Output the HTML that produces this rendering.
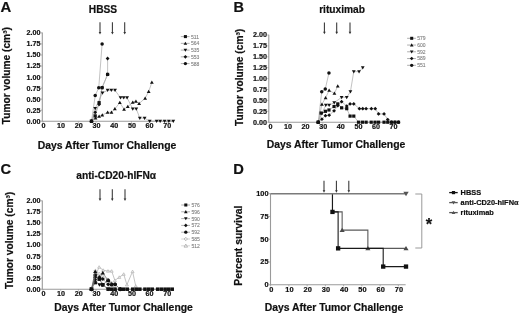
<!DOCTYPE html>
<html><head><meta charset="utf-8"><style>
html,body{margin:0;padding:0;background:#fff;width:520px;height:315px;overflow:hidden}
svg{display:block;filter:blur(0.3px)}
text{font-family:"Liberation Sans", sans-serif}
</style></head><body>
<svg width="520" height="315" viewBox="0 0 520 315">
<rect width="520" height="315" fill="#fff"/>
<text x="0.50" y="11.80" font-size="14.9" font-weight="bold" text-anchor="start" fill="#111" stroke="#111" stroke-width="0.2" >A</text><text x="103.00" y="12.70" font-size="10.2" font-weight="bold" text-anchor="middle" fill="#111" stroke="#111" stroke-width="0.2" >HBSS</text><line x1="100.0" y1="22.2" x2="100.0" y2="32.8" stroke="#333" stroke-width="1.05"/><path d="M98.7 32.099999999999994L101.3 32.099999999999994L100.0 34.599999999999994Z" fill="#333"/><line x1="112.4" y1="22.2" x2="112.4" y2="32.8" stroke="#333" stroke-width="1.05"/><path d="M111.10000000000001 32.099999999999994L113.7 32.099999999999994L112.4 34.599999999999994Z" fill="#333"/><line x1="124.7" y1="22.2" x2="124.7" y2="32.8" stroke="#333" stroke-width="1.05"/><path d="M123.4 32.099999999999994L126.0 32.099999999999994L124.7 34.599999999999994Z" fill="#333"/><line x1="42.3" y1="32.60000000000001" x2="42.3" y2="121.2" stroke="#9a9a9a" stroke-width="1.1"/><line x1="41.8" y1="121.2" x2="173.98" y2="121.2" stroke="#9a9a9a" stroke-width="1.1"/><line x1="40.8" y1="32.900000000000006" x2="42.3" y2="32.900000000000006" stroke="#9a9a9a" stroke-width="0.8"/><text x="40.60" y="35.35" font-size="7.2" font-weight="bold" text-anchor="end" fill="#111" stroke="#111" stroke-width="0.2" >2.00</text><line x1="40.8" y1="43.9375" x2="42.3" y2="43.9375" stroke="#9a9a9a" stroke-width="0.8"/><text x="40.60" y="46.39" font-size="7.2" font-weight="bold" text-anchor="end" fill="#111" stroke="#111" stroke-width="0.2" >1.75</text><line x1="40.8" y1="54.97500000000001" x2="42.3" y2="54.97500000000001" stroke="#9a9a9a" stroke-width="0.8"/><text x="40.60" y="57.43" font-size="7.2" font-weight="bold" text-anchor="end" fill="#111" stroke="#111" stroke-width="0.2" >1.50</text><line x1="40.8" y1="66.0125" x2="42.3" y2="66.0125" stroke="#9a9a9a" stroke-width="0.8"/><text x="40.60" y="68.46" font-size="7.2" font-weight="bold" text-anchor="end" fill="#111" stroke="#111" stroke-width="0.2" >1.25</text><line x1="40.8" y1="77.05000000000001" x2="42.3" y2="77.05000000000001" stroke="#9a9a9a" stroke-width="0.8"/><text x="40.60" y="79.50" font-size="7.2" font-weight="bold" text-anchor="end" fill="#111" stroke="#111" stroke-width="0.2" >1.00</text><line x1="40.8" y1="88.0875" x2="42.3" y2="88.0875" stroke="#9a9a9a" stroke-width="0.8"/><text x="40.60" y="90.54" font-size="7.2" font-weight="bold" text-anchor="end" fill="#111" stroke="#111" stroke-width="0.2" >0.75</text><line x1="40.8" y1="99.125" x2="42.3" y2="99.125" stroke="#9a9a9a" stroke-width="0.8"/><text x="40.60" y="101.58" font-size="7.2" font-weight="bold" text-anchor="end" fill="#111" stroke="#111" stroke-width="0.2" >0.50</text><line x1="40.8" y1="110.16250000000001" x2="42.3" y2="110.16250000000001" stroke="#9a9a9a" stroke-width="0.8"/><text x="40.60" y="112.61" font-size="7.2" font-weight="bold" text-anchor="end" fill="#111" stroke="#111" stroke-width="0.2" >0.25</text><line x1="40.8" y1="121.2" x2="42.3" y2="121.2" stroke="#9a9a9a" stroke-width="0.8"/><text x="40.60" y="123.65" font-size="7.2" font-weight="bold" text-anchor="end" fill="#111" stroke="#111" stroke-width="0.2" >0.00</text><line x1="43.0" y1="121.2" x2="43.0" y2="122.7" stroke="#9a9a9a" stroke-width="0.8"/><text x="43.40" y="127.80" font-size="7.2" font-weight="bold" text-anchor="middle" fill="#111" stroke="#111" stroke-width="0.2" >0</text><line x1="60.7" y1="121.2" x2="60.7" y2="122.7" stroke="#9a9a9a" stroke-width="0.8"/><text x="61.10" y="127.80" font-size="7.2" font-weight="bold" text-anchor="middle" fill="#111" stroke="#111" stroke-width="0.2" >10</text><line x1="78.4" y1="121.2" x2="78.4" y2="122.7" stroke="#9a9a9a" stroke-width="0.8"/><text x="78.80" y="127.80" font-size="7.2" font-weight="bold" text-anchor="middle" fill="#111" stroke="#111" stroke-width="0.2" >20</text><line x1="96.1" y1="121.2" x2="96.1" y2="122.7" stroke="#9a9a9a" stroke-width="0.8"/><text x="96.50" y="127.80" font-size="7.2" font-weight="bold" text-anchor="middle" fill="#111" stroke="#111" stroke-width="0.2" >30</text><line x1="113.8" y1="121.2" x2="113.8" y2="122.7" stroke="#9a9a9a" stroke-width="0.8"/><text x="114.20" y="127.80" font-size="7.2" font-weight="bold" text-anchor="middle" fill="#111" stroke="#111" stroke-width="0.2" >40</text><line x1="131.5" y1="121.2" x2="131.5" y2="122.7" stroke="#9a9a9a" stroke-width="0.8"/><text x="131.90" y="127.80" font-size="7.2" font-weight="bold" text-anchor="middle" fill="#111" stroke="#111" stroke-width="0.2" >50</text><line x1="149.2" y1="121.2" x2="149.2" y2="122.7" stroke="#9a9a9a" stroke-width="0.8"/><text x="149.60" y="127.80" font-size="7.2" font-weight="bold" text-anchor="middle" fill="#111" stroke="#111" stroke-width="0.2" >60</text><line x1="166.9" y1="121.2" x2="166.9" y2="122.7" stroke="#9a9a9a" stroke-width="0.8"/><text x="167.30" y="127.80" font-size="7.2" font-weight="bold" text-anchor="middle" fill="#111" stroke="#111" stroke-width="0.2" >70</text><text x="107.00" y="148.60" font-size="10.4" font-weight="bold" text-anchor="middle" fill="#111" stroke="#111" stroke-width="0.2" >Days After Tumor Challenge</text><text transform="translate(9.9 124.2) rotate(-90)" font-size="10.2" font-weight="bold" fill="#111" stroke="#111" stroke-width="0.2">Tumor volume (cm&#179;)</text><path d="M91.50 121.20L95.57 118.11L99.11 116.34L102.30 115.02L107.61 112.37L111.50 112.37L114.86 108.84L119.82 102.66L124.07 109.28L127.78 106.63L132.74 102.22L135.93 101.33L139.11 103.54L145.13 98.24L148.67 91.62L151.86 82.35" fill="none" stroke="#a8a8a8" stroke-width="0.7"/><path d="M91.50 121.20L95.22 108.40L102.47 92.94L107.61 90.30L111.32 90.30L115.04 90.30L120.53 97.80L123.71 97.80L127.08 97.80L132.74 108.84L136.28 108.84L139.82 118.11L144.60 118.11L149.73 121.20L156.63 121.20L160.17 121.20L164.60 121.20L168.85 121.20L173.27 121.20" fill="none" stroke="#a8a8a8" stroke-width="0.7"/><path d="M91.50 121.20L95.22 112.37L99.11 104.42L102.12 87.65L107.61 74.40L107.61 58.51" fill="none" stroke="#a8a8a8" stroke-width="0.7"/><path d="M91.50 121.20L95.22 115.90L99.11 102.66L102.12 87.65L107.61 74.40" fill="none" stroke="#a8a8a8" stroke-width="0.7"/><path d="M91.50 121.20L95.22 95.59L98.75 87.65L102.12 43.94" fill="none" stroke="#a8a8a8" stroke-width="0.7"/><path d="M91.50 119.40L93.40 122.64L89.60 122.64Z" fill="#111"/><path d="M95.57 116.31L97.47 119.55L93.67 119.55Z" fill="#111"/><path d="M99.11 114.54L101.01 117.78L97.21 117.78Z" fill="#111"/><path d="M102.30 113.22L104.20 116.46L100.39 116.46Z" fill="#111"/><path d="M107.61 110.57L109.51 113.81L105.70 113.81Z" fill="#111"/><path d="M111.50 110.57L113.40 113.81L109.60 113.81Z" fill="#111"/><path d="M114.86 107.04L116.76 110.28L112.96 110.28Z" fill="#111"/><path d="M119.82 100.86L121.72 104.10L117.92 104.10Z" fill="#111"/><path d="M124.07 107.48L125.97 110.72L122.17 110.72Z" fill="#111"/><path d="M127.78 104.83L129.68 108.07L125.88 108.07Z" fill="#111"/><path d="M132.74 100.42L134.64 103.66L130.84 103.66Z" fill="#111"/><path d="M135.93 99.53L137.83 102.77L134.03 102.77Z" fill="#111"/><path d="M139.11 101.74L141.01 104.98L137.21 104.98Z" fill="#111"/><path d="M145.13 96.44L147.03 99.68L143.23 99.68Z" fill="#111"/><path d="M148.67 89.82L150.57 93.06L146.77 93.06Z" fill="#111"/><path d="M151.86 80.55L153.76 83.79L149.96 83.79Z" fill="#111"/><path d="M91.50 123.00L93.40 119.76L89.60 119.76Z" fill="#111"/><path d="M95.22 110.20L97.12 106.96L93.31 106.96Z" fill="#111"/><path d="M102.47 94.74L104.37 91.50L100.57 91.50Z" fill="#111"/><path d="M107.61 92.09L109.51 88.86L105.70 88.86Z" fill="#111"/><path d="M111.32 92.09L113.22 88.86L109.42 88.86Z" fill="#111"/><path d="M115.04 92.09L116.94 88.86L113.14 88.86Z" fill="#111"/><path d="M120.53 99.60L122.43 96.36L118.63 96.36Z" fill="#111"/><path d="M123.71 99.60L125.61 96.36L121.81 96.36Z" fill="#111"/><path d="M127.08 99.60L128.97 96.36L125.17 96.36Z" fill="#111"/><path d="M132.74 110.64L134.64 107.40L130.84 107.40Z" fill="#111"/><path d="M136.28 110.64L138.18 107.40L134.38 107.40Z" fill="#111"/><path d="M139.82 119.91L141.72 116.67L137.92 116.67Z" fill="#111"/><path d="M144.60 119.91L146.50 116.67L142.70 116.67Z" fill="#111"/><path d="M149.73 123.00L151.63 119.76L147.83 119.76Z" fill="#111"/><path d="M156.63 123.00L158.53 119.76L154.73 119.76Z" fill="#111"/><path d="M160.17 123.00L162.07 119.76L158.27 119.76Z" fill="#111"/><path d="M164.60 123.00L166.50 119.76L162.70 119.76Z" fill="#111"/><path d="M168.85 123.00L170.75 119.76L166.95 119.76Z" fill="#111"/><path d="M173.27 123.00L175.17 119.76L171.37 119.76Z" fill="#111"/><path d="M91.50 119.30L93.40 121.20L91.50 123.10L89.60 121.20Z" fill="#111"/><path d="M95.22 110.47L97.12 112.37L95.22 114.27L93.31 112.37Z" fill="#111"/><path d="M99.11 102.52L101.01 104.42L99.11 106.32L97.21 104.42Z" fill="#111"/><path d="M102.12 85.75L104.02 87.65L102.12 89.55L100.22 87.65Z" fill="#111"/><path d="M107.61 72.50L109.51 74.40L107.61 76.30L105.70 74.40Z" fill="#111"/><path d="M107.61 56.61L109.51 58.51L107.61 60.41L105.70 58.51Z" fill="#111"/><rect x="89.90" y="119.60" width="3.20" height="3.20" fill="#111"/><rect x="93.62" y="114.30" width="3.20" height="3.20" fill="#111"/><rect x="97.51" y="101.06" width="3.20" height="3.20" fill="#111"/><rect x="100.52" y="86.05" width="3.20" height="3.20" fill="#111"/><rect x="106.01" y="72.80" width="3.20" height="3.20" fill="#111"/><circle cx="91.50" cy="121.20" r="1.75" fill="#111"/><circle cx="95.22" cy="95.59" r="1.75" fill="#111"/><circle cx="98.75" cy="87.65" r="1.75" fill="#111"/><circle cx="102.12" cy="43.94" r="1.75" fill="#111"/><line x1="180.8" y1="36.6" x2="189.6" y2="36.6" stroke="#777" stroke-width="0.6"/><rect x="183.88" y="35.08" width="3.04" height="3.04" fill="#111"/><text x="191.00" y="38.50" font-size="5.0" font-weight="normal" text-anchor="start" fill="#808080" stroke="#808080" stroke-width="0.1" >511</text><line x1="180.8" y1="43.35" x2="189.6" y2="43.35" stroke="#777" stroke-width="0.6"/><path d="M185.40 41.64L187.21 44.72L183.59 44.72Z" fill="#111"/><text x="191.00" y="45.25" font-size="5.0" font-weight="normal" text-anchor="start" fill="#808080" stroke="#808080" stroke-width="0.1" >564</text><line x1="180.8" y1="50.1" x2="189.6" y2="50.1" stroke="#777" stroke-width="0.6"/><path d="M185.40 51.81L187.21 48.73L183.59 48.73Z" fill="#111"/><text x="191.00" y="52.00" font-size="5.0" font-weight="normal" text-anchor="start" fill="#808080" stroke="#808080" stroke-width="0.1" >535</text><line x1="180.8" y1="56.85" x2="189.6" y2="56.85" stroke="#777" stroke-width="0.6"/><path d="M185.40 55.05L187.21 56.85L185.40 58.66L183.59 56.85Z" fill="#111"/><text x="191.00" y="58.75" font-size="5.0" font-weight="normal" text-anchor="start" fill="#808080" stroke="#808080" stroke-width="0.1" >553</text><line x1="180.8" y1="63.6" x2="189.6" y2="63.6" stroke="#777" stroke-width="0.6"/><circle cx="185.40" cy="63.60" r="1.66" fill="#111"/><text x="191.00" y="65.50" font-size="5.0" font-weight="normal" text-anchor="start" fill="#808080" stroke="#808080" stroke-width="0.1" >588</text><text x="233.40" y="12.00" font-size="14.5" font-weight="bold" text-anchor="start" fill="#111" stroke="#111" stroke-width="0.2" >B</text><text x="342.10" y="12.70" font-size="10.2" font-weight="bold" text-anchor="middle" fill="#111" stroke="#111" stroke-width="0.2" >rituximab</text><line x1="324.4" y1="22.6" x2="324.4" y2="32.5" stroke="#333" stroke-width="1.05"/><path d="M323.09999999999997 31.8L325.7 31.8L324.4 34.3Z" fill="#333"/><line x1="336.7" y1="22.6" x2="336.7" y2="32.5" stroke="#333" stroke-width="1.05"/><path d="M335.4 31.8L338.0 31.8L336.7 34.3Z" fill="#333"/><line x1="350.0" y1="22.6" x2="350.0" y2="32.5" stroke="#333" stroke-width="1.05"/><path d="M348.7 31.8L351.3 31.8L350.0 34.3Z" fill="#333"/><line x1="268.8" y1="34.7" x2="268.8" y2="122.2" stroke="#9a9a9a" stroke-width="1.1"/><line x1="268.3" y1="122.2" x2="400.24" y2="122.2" stroke="#9a9a9a" stroke-width="1.1"/><line x1="267.3" y1="35.0" x2="268.8" y2="35.0" stroke="#9a9a9a" stroke-width="0.8"/><text x="267.10" y="37.45" font-size="7.2" font-weight="bold" text-anchor="end" fill="#111" stroke="#111" stroke-width="0.2" >2.00</text><line x1="267.3" y1="45.900000000000006" x2="268.8" y2="45.900000000000006" stroke="#9a9a9a" stroke-width="0.8"/><text x="267.10" y="48.35" font-size="7.2" font-weight="bold" text-anchor="end" fill="#111" stroke="#111" stroke-width="0.2" >1.75</text><line x1="267.3" y1="56.8" x2="268.8" y2="56.8" stroke="#9a9a9a" stroke-width="0.8"/><text x="267.10" y="59.25" font-size="7.2" font-weight="bold" text-anchor="end" fill="#111" stroke="#111" stroke-width="0.2" >1.50</text><line x1="267.3" y1="67.7" x2="268.8" y2="67.7" stroke="#9a9a9a" stroke-width="0.8"/><text x="267.10" y="70.15" font-size="7.2" font-weight="bold" text-anchor="end" fill="#111" stroke="#111" stroke-width="0.2" >1.25</text><line x1="267.3" y1="78.6" x2="268.8" y2="78.6" stroke="#9a9a9a" stroke-width="0.8"/><text x="267.10" y="81.05" font-size="7.2" font-weight="bold" text-anchor="end" fill="#111" stroke="#111" stroke-width="0.2" >1.00</text><line x1="267.3" y1="89.5" x2="268.8" y2="89.5" stroke="#9a9a9a" stroke-width="0.8"/><text x="267.10" y="91.95" font-size="7.2" font-weight="bold" text-anchor="end" fill="#111" stroke="#111" stroke-width="0.2" >0.75</text><line x1="267.3" y1="100.4" x2="268.8" y2="100.4" stroke="#9a9a9a" stroke-width="0.8"/><text x="267.10" y="102.85" font-size="7.2" font-weight="bold" text-anchor="end" fill="#111" stroke="#111" stroke-width="0.2" >0.50</text><line x1="267.3" y1="111.3" x2="268.8" y2="111.3" stroke="#9a9a9a" stroke-width="0.8"/><text x="267.10" y="113.75" font-size="7.2" font-weight="bold" text-anchor="end" fill="#111" stroke="#111" stroke-width="0.2" >0.25</text><line x1="267.3" y1="122.2" x2="268.8" y2="122.2" stroke="#9a9a9a" stroke-width="0.8"/><text x="267.10" y="124.65" font-size="7.2" font-weight="bold" text-anchor="end" fill="#111" stroke="#111" stroke-width="0.2" >0.00</text><line x1="270.0" y1="122.2" x2="270.0" y2="123.7" stroke="#9a9a9a" stroke-width="0.8"/><text x="270.40" y="128.80" font-size="7.2" font-weight="bold" text-anchor="middle" fill="#111" stroke="#111" stroke-width="0.2" >0</text><line x1="287.6" y1="122.2" x2="287.6" y2="123.7" stroke="#9a9a9a" stroke-width="0.8"/><text x="288.00" y="128.80" font-size="7.2" font-weight="bold" text-anchor="middle" fill="#111" stroke="#111" stroke-width="0.2" >10</text><line x1="305.2" y1="122.2" x2="305.2" y2="123.7" stroke="#9a9a9a" stroke-width="0.8"/><text x="305.60" y="128.80" font-size="7.2" font-weight="bold" text-anchor="middle" fill="#111" stroke="#111" stroke-width="0.2" >20</text><line x1="322.8" y1="122.2" x2="322.8" y2="123.7" stroke="#9a9a9a" stroke-width="0.8"/><text x="323.20" y="128.80" font-size="7.2" font-weight="bold" text-anchor="middle" fill="#111" stroke="#111" stroke-width="0.2" >30</text><line x1="340.4" y1="122.2" x2="340.4" y2="123.7" stroke="#9a9a9a" stroke-width="0.8"/><text x="340.80" y="128.80" font-size="7.2" font-weight="bold" text-anchor="middle" fill="#111" stroke="#111" stroke-width="0.2" >40</text><line x1="358.0" y1="122.2" x2="358.0" y2="123.7" stroke="#9a9a9a" stroke-width="0.8"/><text x="358.40" y="128.80" font-size="7.2" font-weight="bold" text-anchor="middle" fill="#111" stroke="#111" stroke-width="0.2" >50</text><line x1="375.6" y1="122.2" x2="375.6" y2="123.7" stroke="#9a9a9a" stroke-width="0.8"/><text x="376.00" y="128.80" font-size="7.2" font-weight="bold" text-anchor="middle" fill="#111" stroke="#111" stroke-width="0.2" >60</text><line x1="393.2" y1="122.2" x2="393.2" y2="123.7" stroke="#9a9a9a" stroke-width="0.8"/><text x="393.60" y="128.80" font-size="7.2" font-weight="bold" text-anchor="middle" fill="#111" stroke="#111" stroke-width="0.2" >70</text><text x="336.00" y="148.00" font-size="10.4" font-weight="bold" text-anchor="middle" fill="#111" stroke="#111" stroke-width="0.2" >Days After Tumor Challenge</text><text transform="translate(242.8 125.9) rotate(-90)" font-size="10.2" font-weight="bold" fill="#111" stroke="#111" stroke-width="0.2">Tumor volume (cm&#179;)</text><path d="M318.22 122.20L321.04 113.04L325.44 111.30L328.96 109.99L334.06 106.50L337.76 103.89L341.63 107.81L346.74 108.68L350.08 116.10L353.78 116.10L358.53 122.20L362.40 122.20L366.10 122.20L371.20 122.20L375.07 122.20L378.59 122.20L384.05 122.20L387.74 122.20L391.44 122.20L394.96 122.20L398.48 122.20" fill="none" stroke="#a8a8a8" stroke-width="0.7"/><path d="M318.22 122.20L321.92 119.15L325.44 115.66L329.14 115.22L334.06 110.86L337.76 105.63L341.63 101.71L346.74 106.07L350.08 103.89L353.78 103.89L359.41 108.68L362.75 108.68L366.10 108.68L371.38 108.68L375.25 108.68L378.59 113.92L384.05 113.92L387.74 119.58L391.44 122.20L394.96 122.20L398.48 122.20" fill="none" stroke="#a8a8a8" stroke-width="0.7"/><path d="M318.22 122.20L321.92 113.48L325.79 105.20L329.14 105.20L334.24 102.58L341.63 97.35L346.74 97.35L350.43 91.68L353.78 71.62L359.06 71.62L362.75 67.70" fill="none" stroke="#a8a8a8" stroke-width="0.7"/><path d="M318.22 122.20L321.92 104.32L325.62 97.78L329.14 90.37L334.42 93.42L337.76 86.01" fill="none" stroke="#a8a8a8" stroke-width="0.7"/><path d="M318.22 122.20L321.74 91.68L325.26 89.06L328.96 72.93" fill="none" stroke="#a8a8a8" stroke-width="0.7"/><rect x="316.62" y="120.60" width="3.20" height="3.20" fill="#111"/><rect x="319.44" y="111.44" width="3.20" height="3.20" fill="#111"/><rect x="323.84" y="109.70" width="3.20" height="3.20" fill="#111"/><rect x="327.36" y="108.39" width="3.20" height="3.20" fill="#111"/><rect x="332.46" y="104.90" width="3.20" height="3.20" fill="#111"/><rect x="336.16" y="102.29" width="3.20" height="3.20" fill="#111"/><rect x="340.03" y="106.21" width="3.20" height="3.20" fill="#111"/><rect x="345.14" y="107.08" width="3.20" height="3.20" fill="#111"/><rect x="348.48" y="114.50" width="3.20" height="3.20" fill="#111"/><rect x="352.18" y="114.50" width="3.20" height="3.20" fill="#111"/><rect x="356.93" y="120.60" width="3.20" height="3.20" fill="#111"/><rect x="360.80" y="120.60" width="3.20" height="3.20" fill="#111"/><rect x="364.50" y="120.60" width="3.20" height="3.20" fill="#111"/><rect x="369.60" y="120.60" width="3.20" height="3.20" fill="#111"/><rect x="373.47" y="120.60" width="3.20" height="3.20" fill="#111"/><rect x="376.99" y="120.60" width="3.20" height="3.20" fill="#111"/><rect x="382.45" y="120.60" width="3.20" height="3.20" fill="#111"/><rect x="386.14" y="120.60" width="3.20" height="3.20" fill="#111"/><rect x="389.84" y="120.60" width="3.20" height="3.20" fill="#111"/><rect x="393.36" y="120.60" width="3.20" height="3.20" fill="#111"/><rect x="396.88" y="120.60" width="3.20" height="3.20" fill="#111"/><path d="M318.22 120.30L320.12 122.20L318.22 124.10L316.32 122.20Z" fill="#111"/><path d="M321.92 117.25L323.82 119.15L321.92 121.05L320.02 119.15Z" fill="#111"/><path d="M325.44 113.76L327.34 115.66L325.44 117.56L323.54 115.66Z" fill="#111"/><path d="M329.14 113.32L331.04 115.22L329.14 117.12L327.24 115.22Z" fill="#111"/><path d="M334.06 108.96L335.96 110.86L334.06 112.76L332.16 110.86Z" fill="#111"/><path d="M337.76 103.73L339.66 105.63L337.76 107.53L335.86 105.63Z" fill="#111"/><path d="M341.63 99.81L343.53 101.71L341.63 103.61L339.73 101.71Z" fill="#111"/><path d="M346.74 104.17L348.64 106.07L346.74 107.97L344.84 106.07Z" fill="#111"/><path d="M350.08 101.99L351.98 103.89L350.08 105.79L348.18 103.89Z" fill="#111"/><path d="M353.78 101.99L355.68 103.89L353.78 105.79L351.88 103.89Z" fill="#111"/><path d="M359.41 106.78L361.31 108.68L359.41 110.58L357.51 108.68Z" fill="#111"/><path d="M362.75 106.78L364.65 108.68L362.75 110.58L360.85 108.68Z" fill="#111"/><path d="M366.10 106.78L368.00 108.68L366.10 110.58L364.20 108.68Z" fill="#111"/><path d="M371.38 106.78L373.28 108.68L371.38 110.58L369.48 108.68Z" fill="#111"/><path d="M375.25 106.78L377.15 108.68L375.25 110.58L373.35 108.68Z" fill="#111"/><path d="M378.59 112.02L380.49 113.92L378.59 115.82L376.69 113.92Z" fill="#111"/><path d="M384.05 112.02L385.95 113.92L384.05 115.82L382.15 113.92Z" fill="#111"/><path d="M387.74 117.68L389.64 119.58L387.74 121.48L385.84 119.58Z" fill="#111"/><path d="M391.44 120.30L393.34 122.20L391.44 124.10L389.54 122.20Z" fill="#111"/><path d="M394.96 120.30L396.86 122.20L394.96 124.10L393.06 122.20Z" fill="#111"/><path d="M398.48 120.30L400.38 122.20L398.48 124.10L396.58 122.20Z" fill="#111"/><path d="M318.22 124.00L320.12 120.76L316.32 120.76Z" fill="#111"/><path d="M321.92 115.28L323.82 112.04L320.02 112.04Z" fill="#111"/><path d="M325.79 107.00L327.69 103.76L323.89 103.76Z" fill="#111"/><path d="M329.14 107.00L331.04 103.76L327.24 103.76Z" fill="#111"/><path d="M334.24 104.38L336.14 101.14L332.34 101.14Z" fill="#111"/><path d="M341.63 99.15L343.53 95.91L339.73 95.91Z" fill="#111"/><path d="M346.74 99.15L348.64 95.91L344.84 95.91Z" fill="#111"/><path d="M350.43 93.48L352.33 90.24L348.53 90.24Z" fill="#111"/><path d="M353.78 73.42L355.68 70.18L351.88 70.18Z" fill="#111"/><path d="M359.06 73.42L360.96 70.18L357.16 70.18Z" fill="#111"/><path d="M362.75 69.50L364.65 66.26L360.85 66.26Z" fill="#111"/><path d="M318.22 120.40L320.12 123.64L316.32 123.64Z" fill="#111"/><path d="M321.92 102.52L323.82 105.76L320.02 105.76Z" fill="#111"/><path d="M325.62 95.98L327.52 99.22L323.72 99.22Z" fill="#111"/><path d="M329.14 88.57L331.04 91.81L327.24 91.81Z" fill="#111"/><path d="M334.42 91.62L336.32 94.86L332.52 94.86Z" fill="#111"/><path d="M337.76 84.21L339.66 87.45L335.86 87.45Z" fill="#111"/><circle cx="318.22" cy="122.20" r="1.75" fill="#111"/><circle cx="321.74" cy="91.68" r="1.75" fill="#111"/><circle cx="325.26" cy="89.06" r="1.75" fill="#111"/><circle cx="328.96" cy="72.93" r="1.75" fill="#111"/><line x1="407.09999999999997" y1="38.3" x2="415.9" y2="38.3" stroke="#777" stroke-width="0.6"/><rect x="410.18" y="36.78" width="3.04" height="3.04" fill="#111"/><text x="417.30" y="40.20" font-size="5.0" font-weight="normal" text-anchor="start" fill="#808080" stroke="#808080" stroke-width="0.1" >579</text><line x1="407.09999999999997" y1="45.05" x2="415.9" y2="45.05" stroke="#777" stroke-width="0.6"/><path d="M411.70 43.34L413.50 46.42L409.89 46.42Z" fill="#111"/><text x="417.30" y="46.95" font-size="5.0" font-weight="normal" text-anchor="start" fill="#808080" stroke="#808080" stroke-width="0.1" >600</text><line x1="407.09999999999997" y1="51.8" x2="415.9" y2="51.8" stroke="#777" stroke-width="0.6"/><path d="M411.70 53.51L413.50 50.43L409.89 50.43Z" fill="#111"/><text x="417.30" y="53.70" font-size="5.0" font-weight="normal" text-anchor="start" fill="#808080" stroke="#808080" stroke-width="0.1" >592</text><line x1="407.09999999999997" y1="58.55" x2="415.9" y2="58.55" stroke="#777" stroke-width="0.6"/><path d="M411.70 56.74L413.50 58.55L411.70 60.35L409.89 58.55Z" fill="#111"/><text x="417.30" y="60.45" font-size="5.0" font-weight="normal" text-anchor="start" fill="#808080" stroke="#808080" stroke-width="0.1" >589</text><line x1="407.09999999999997" y1="65.3" x2="415.9" y2="65.3" stroke="#777" stroke-width="0.6"/><circle cx="411.70" cy="65.30" r="1.66" fill="#111"/><text x="417.30" y="67.20" font-size="5.0" font-weight="normal" text-anchor="start" fill="#808080" stroke="#808080" stroke-width="0.1" >551</text><text x="0.60" y="173.90" font-size="14.7" font-weight="bold" text-anchor="start" fill="#111" stroke="#111" stroke-width="0.2" >C</text><text x="116.20" y="179.00" font-size="10.2" font-weight="bold" text-anchor="middle" fill="#111" stroke="#111" stroke-width="0.2" >anti-CD20-hIFN&#945;</text><line x1="100.0" y1="189.2" x2="100.0" y2="199.3" stroke="#333" stroke-width="1.05"/><path d="M98.7 198.60000000000002L101.3 198.60000000000002L100.0 201.10000000000002Z" fill="#333"/><line x1="112.3" y1="189.2" x2="112.3" y2="199.3" stroke="#333" stroke-width="1.05"/><path d="M111.0 198.60000000000002L113.6 198.60000000000002L112.3 201.10000000000002Z" fill="#333"/><line x1="125.0" y1="189.2" x2="125.0" y2="199.3" stroke="#333" stroke-width="1.05"/><path d="M123.7 198.60000000000002L126.3 198.60000000000002L125.0 201.10000000000002Z" fill="#333"/><line x1="42.3" y1="200.49999999999997" x2="42.3" y2="289.2" stroke="#9a9a9a" stroke-width="1.1"/><line x1="41.8" y1="289.2" x2="173.98" y2="289.2" stroke="#9a9a9a" stroke-width="1.1"/><line x1="40.8" y1="200.79999999999998" x2="42.3" y2="200.79999999999998" stroke="#9a9a9a" stroke-width="0.8"/><text x="40.60" y="203.25" font-size="7.2" font-weight="bold" text-anchor="end" fill="#111" stroke="#111" stroke-width="0.2" >2.00</text><line x1="40.8" y1="211.84999999999997" x2="42.3" y2="211.84999999999997" stroke="#9a9a9a" stroke-width="0.8"/><text x="40.60" y="214.30" font-size="7.2" font-weight="bold" text-anchor="end" fill="#111" stroke="#111" stroke-width="0.2" >1.75</text><line x1="40.8" y1="222.89999999999998" x2="42.3" y2="222.89999999999998" stroke="#9a9a9a" stroke-width="0.8"/><text x="40.60" y="225.35" font-size="7.2" font-weight="bold" text-anchor="end" fill="#111" stroke="#111" stroke-width="0.2" >1.50</text><line x1="40.8" y1="233.95" x2="42.3" y2="233.95" stroke="#9a9a9a" stroke-width="0.8"/><text x="40.60" y="236.40" font-size="7.2" font-weight="bold" text-anchor="end" fill="#111" stroke="#111" stroke-width="0.2" >1.25</text><line x1="40.8" y1="245.0" x2="42.3" y2="245.0" stroke="#9a9a9a" stroke-width="0.8"/><text x="40.60" y="247.45" font-size="7.2" font-weight="bold" text-anchor="end" fill="#111" stroke="#111" stroke-width="0.2" >1.00</text><line x1="40.8" y1="256.04999999999995" x2="42.3" y2="256.04999999999995" stroke="#9a9a9a" stroke-width="0.8"/><text x="40.60" y="258.50" font-size="7.2" font-weight="bold" text-anchor="end" fill="#111" stroke="#111" stroke-width="0.2" >0.75</text><line x1="40.8" y1="267.09999999999997" x2="42.3" y2="267.09999999999997" stroke="#9a9a9a" stroke-width="0.8"/><text x="40.60" y="269.55" font-size="7.2" font-weight="bold" text-anchor="end" fill="#111" stroke="#111" stroke-width="0.2" >0.50</text><line x1="40.8" y1="278.15" x2="42.3" y2="278.15" stroke="#9a9a9a" stroke-width="0.8"/><text x="40.60" y="280.60" font-size="7.2" font-weight="bold" text-anchor="end" fill="#111" stroke="#111" stroke-width="0.2" >0.25</text><line x1="40.8" y1="289.2" x2="42.3" y2="289.2" stroke="#9a9a9a" stroke-width="0.8"/><text x="40.60" y="291.65" font-size="7.2" font-weight="bold" text-anchor="end" fill="#111" stroke="#111" stroke-width="0.2" >0.00</text><line x1="43.0" y1="289.2" x2="43.0" y2="290.7" stroke="#9a9a9a" stroke-width="0.8"/><text x="43.40" y="295.80" font-size="7.2" font-weight="bold" text-anchor="middle" fill="#111" stroke="#111" stroke-width="0.2" >0</text><line x1="60.7" y1="289.2" x2="60.7" y2="290.7" stroke="#9a9a9a" stroke-width="0.8"/><text x="61.10" y="295.80" font-size="7.2" font-weight="bold" text-anchor="middle" fill="#111" stroke="#111" stroke-width="0.2" >10</text><line x1="78.4" y1="289.2" x2="78.4" y2="290.7" stroke="#9a9a9a" stroke-width="0.8"/><text x="78.80" y="295.80" font-size="7.2" font-weight="bold" text-anchor="middle" fill="#111" stroke="#111" stroke-width="0.2" >20</text><line x1="96.1" y1="289.2" x2="96.1" y2="290.7" stroke="#9a9a9a" stroke-width="0.8"/><text x="96.50" y="295.80" font-size="7.2" font-weight="bold" text-anchor="middle" fill="#111" stroke="#111" stroke-width="0.2" >30</text><line x1="113.8" y1="289.2" x2="113.8" y2="290.7" stroke="#9a9a9a" stroke-width="0.8"/><text x="114.20" y="295.80" font-size="7.2" font-weight="bold" text-anchor="middle" fill="#111" stroke="#111" stroke-width="0.2" >40</text><line x1="131.5" y1="289.2" x2="131.5" y2="290.7" stroke="#9a9a9a" stroke-width="0.8"/><text x="131.90" y="295.80" font-size="7.2" font-weight="bold" text-anchor="middle" fill="#111" stroke="#111" stroke-width="0.2" >50</text><line x1="149.2" y1="289.2" x2="149.2" y2="290.7" stroke="#9a9a9a" stroke-width="0.8"/><text x="149.60" y="295.80" font-size="7.2" font-weight="bold" text-anchor="middle" fill="#111" stroke="#111" stroke-width="0.2" >60</text><line x1="166.9" y1="289.2" x2="166.9" y2="290.7" stroke="#9a9a9a" stroke-width="0.8"/><text x="167.30" y="295.80" font-size="7.2" font-weight="bold" text-anchor="middle" fill="#111" stroke="#111" stroke-width="0.2" >70</text><text x="123.60" y="311.10" font-size="10.4" font-weight="bold" text-anchor="middle" fill="#111" stroke="#111" stroke-width="0.2" >Days After Tumor Challenge</text><text transform="translate(12.8 288.9) rotate(-90)" font-size="10.2" font-weight="bold" fill="#111" stroke="#111" stroke-width="0.2">Tumor volume (cm&#179;)</text><path d="M91.50 289.20L95.39 275.94L99.11 267.10L103.18 270.19L107.96 271.08L111.68 271.08L114.86 280.36L119.29 277.27L123.71 274.17L126.90 284.78L132.56 271.52L135.75 286.11" fill="none" stroke="#a4a4a4" stroke-width="0.65"/><path d="M91.50 287.76L93.02 290.35L89.98 290.35Z" fill="#eee" stroke="#aaa" stroke-width="0.6"/><path d="M95.39 274.50L96.91 277.09L93.87 277.09Z" fill="#eee" stroke="#aaa" stroke-width="0.6"/><path d="M99.11 265.66L100.63 268.25L97.59 268.25Z" fill="#eee" stroke="#aaa" stroke-width="0.6"/><path d="M103.18 268.75L104.70 271.35L101.66 271.35Z" fill="#eee" stroke="#aaa" stroke-width="0.6"/><path d="M107.96 269.64L109.48 272.23L106.44 272.23Z" fill="#eee" stroke="#aaa" stroke-width="0.6"/><path d="M111.68 269.64L113.20 272.23L110.16 272.23Z" fill="#eee" stroke="#aaa" stroke-width="0.6"/><path d="M114.86 278.92L116.38 281.51L113.34 281.51Z" fill="#eee" stroke="#aaa" stroke-width="0.6"/><path d="M119.29 275.83L120.81 278.42L117.77 278.42Z" fill="#eee" stroke="#aaa" stroke-width="0.6"/><path d="M123.71 272.73L125.23 275.32L122.19 275.32Z" fill="#eee" stroke="#aaa" stroke-width="0.6"/><path d="M126.90 283.34L128.42 285.93L125.38 285.93Z" fill="#eee" stroke="#aaa" stroke-width="0.6"/><path d="M132.56 270.08L134.08 272.67L131.04 272.67Z" fill="#eee" stroke="#aaa" stroke-width="0.6"/><path d="M135.75 284.67L137.27 287.26L134.23 287.26Z" fill="#eee" stroke="#aaa" stroke-width="0.6"/><path d="M91.50 289.20L95.39 270.64L99.29 273.73L102.83 275.94L107.78 279.48L111.32 282.57" fill="none" stroke="#a4a4a4" stroke-width="0.65"/><path d="M91.50 287.76L92.94 289.20L91.50 290.64L90.06 289.20Z" fill="#eee" stroke="#aaa" stroke-width="0.6"/><path d="M95.39 269.20L96.83 270.64L95.39 272.08L93.95 270.64Z" fill="#eee" stroke="#aaa" stroke-width="0.6"/><path d="M99.29 272.29L100.73 273.73L99.29 275.17L97.85 273.73Z" fill="#eee" stroke="#aaa" stroke-width="0.6"/><path d="M102.83 274.50L104.27 275.94L102.83 277.38L101.39 275.94Z" fill="#eee" stroke="#aaa" stroke-width="0.6"/><path d="M107.78 278.04L109.22 279.48L107.78 280.92L106.34 279.48Z" fill="#eee" stroke="#aaa" stroke-width="0.6"/><path d="M111.32 281.13L112.76 282.57L111.32 284.01L109.88 282.57Z" fill="#eee" stroke="#aaa" stroke-width="0.6"/><path d="M91.50 289.20L95.22 282.57L99.46 279.03L102.83 284.78L108.14 289.20L111.50 289.20L115.04 289.20L120.17 289.20L123.71 289.20L127.25 289.20L132.74 289.20L136.28 289.20L139.82 289.20L144.95 289.20L148.67 289.20L152.21 289.20L157.70 289.20L161.41 289.20L165.13 289.20L168.67 289.20L172.21 289.20" fill="none" stroke="#666" stroke-width="0.6"/><rect x="89.74" y="287.44" width="3.52" height="3.52" fill="#111"/><rect x="93.45" y="280.81" width="3.52" height="3.52" fill="#111"/><rect x="97.70" y="277.27" width="3.52" height="3.52" fill="#111"/><rect x="101.07" y="283.02" width="3.52" height="3.52" fill="#111"/><rect x="106.38" y="287.44" width="3.52" height="3.52" fill="#111"/><rect x="109.74" y="287.44" width="3.52" height="3.52" fill="#111"/><rect x="113.28" y="287.44" width="3.52" height="3.52" fill="#111"/><rect x="118.41" y="287.44" width="3.52" height="3.52" fill="#111"/><rect x="121.95" y="287.44" width="3.52" height="3.52" fill="#111"/><rect x="125.49" y="287.44" width="3.52" height="3.52" fill="#111"/><rect x="130.98" y="287.44" width="3.52" height="3.52" fill="#111"/><rect x="134.52" y="287.44" width="3.52" height="3.52" fill="#111"/><rect x="138.06" y="287.44" width="3.52" height="3.52" fill="#111"/><rect x="143.19" y="287.44" width="3.52" height="3.52" fill="#111"/><rect x="146.91" y="287.44" width="3.52" height="3.52" fill="#111"/><rect x="150.45" y="287.44" width="3.52" height="3.52" fill="#111"/><rect x="155.94" y="287.44" width="3.52" height="3.52" fill="#111"/><rect x="159.65" y="287.44" width="3.52" height="3.52" fill="#111"/><rect x="163.37" y="287.44" width="3.52" height="3.52" fill="#111"/><rect x="166.91" y="287.44" width="3.52" height="3.52" fill="#111"/><rect x="170.45" y="287.44" width="3.52" height="3.52" fill="#111"/><path d="M91.50 289.20L95.22 280.36L99.46 284.78L102.83 284.78L108.14 289.20" fill="none" stroke="#666" stroke-width="0.6"/><path d="M91.50 291.18L93.59 287.62L89.41 287.62Z" fill="#111"/><path d="M95.22 282.34L97.31 278.78L93.12 278.78Z" fill="#111"/><path d="M99.46 286.76L101.55 283.20L97.37 283.20Z" fill="#111"/><path d="M102.83 286.76L104.92 283.20L100.74 283.20Z" fill="#111"/><path d="M108.14 291.18L110.23 287.62L106.05 287.62Z" fill="#111"/><path d="M91.50 289.20L95.22 277.27L99.46 277.27L102.83 279.03L108.14 284.34L111.50 284.34L115.04 284.34L120.17 289.20" fill="none" stroke="#666" stroke-width="0.6"/><path d="M91.50 287.11L93.59 289.20L91.50 291.29L89.41 289.20Z" fill="#111"/><path d="M95.22 275.18L97.31 277.27L95.22 279.36L93.12 277.27Z" fill="#111"/><path d="M99.46 275.18L101.55 277.27L99.46 279.36L97.37 277.27Z" fill="#111"/><path d="M102.83 276.94L104.92 279.03L102.83 281.12L100.74 279.03Z" fill="#111"/><path d="M108.14 282.25L110.23 284.34L108.14 286.43L106.05 284.34Z" fill="#111"/><path d="M111.50 282.25L113.59 284.34L111.50 286.43L109.41 284.34Z" fill="#111"/><path d="M115.04 282.25L117.13 284.34L115.04 286.43L112.95 284.34Z" fill="#111"/><path d="M120.17 287.11L122.26 289.20L120.17 291.29L118.08 289.20Z" fill="#111"/><path d="M91.50 289.20L95.22 275.06L99.46 279.03L102.47 284.78L108.14 280.36L111.50 284.34L115.04 284.34L120.17 289.20" fill="none" stroke="#666" stroke-width="0.6"/><circle cx="91.50" cy="289.20" r="1.93" fill="#111"/><circle cx="95.22" cy="275.06" r="1.93" fill="#111"/><circle cx="99.46" cy="279.03" r="1.93" fill="#111"/><circle cx="102.47" cy="284.78" r="1.93" fill="#111"/><circle cx="108.14" cy="280.36" r="1.93" fill="#111"/><circle cx="111.50" cy="284.34" r="1.93" fill="#111"/><circle cx="115.04" cy="284.34" r="1.93" fill="#111"/><circle cx="120.17" cy="289.20" r="1.93" fill="#111"/><path d="M91.50 289.20L95.22 271.52L99.46 277.27L102.83 272.85L108.14 280.36L111.50 284.78L115.04 289.20" fill="none" stroke="#666" stroke-width="0.6"/><path d="M91.50 287.22L93.59 290.78L89.41 290.78Z" fill="#111"/><path d="M95.22 269.54L97.31 273.10L93.12 273.10Z" fill="#111"/><path d="M99.46 275.29L101.55 278.85L97.37 278.85Z" fill="#111"/><path d="M102.83 270.87L104.92 274.43L100.74 274.43Z" fill="#111"/><path d="M108.14 278.38L110.23 281.94L106.05 281.94Z" fill="#111"/><path d="M111.50 282.80L113.59 286.36L109.41 286.36Z" fill="#111"/><path d="M115.04 287.22L117.13 290.78L112.95 290.78Z" fill="#111"/><line x1="181.20000000000002" y1="205.0" x2="190.0" y2="205.0" stroke="#777" stroke-width="0.6"/><rect x="184.28" y="203.48" width="3.04" height="3.04" fill="#111"/><text x="191.40" y="206.90" font-size="5.0" font-weight="normal" text-anchor="start" fill="#808080" stroke="#808080" stroke-width="0.1" >576</text><line x1="181.20000000000002" y1="211.8" x2="190.0" y2="211.8" stroke="#777" stroke-width="0.6"/><path d="M185.80 210.09L187.61 213.17L184.00 213.17Z" fill="#111"/><text x="191.40" y="213.70" font-size="5.0" font-weight="normal" text-anchor="start" fill="#808080" stroke="#808080" stroke-width="0.1" >596</text><line x1="181.20000000000002" y1="218.6" x2="190.0" y2="218.6" stroke="#777" stroke-width="0.6"/><path d="M185.80 220.31L187.61 217.23L184.00 217.23Z" fill="#111"/><text x="191.40" y="220.50" font-size="5.0" font-weight="normal" text-anchor="start" fill="#808080" stroke="#808080" stroke-width="0.1" >590</text><line x1="181.20000000000002" y1="225.4" x2="190.0" y2="225.4" stroke="#777" stroke-width="0.6"/><path d="M185.80 223.59L187.61 225.40L185.80 227.21L184.00 225.40Z" fill="#111"/><text x="191.40" y="227.30" font-size="5.0" font-weight="normal" text-anchor="start" fill="#808080" stroke="#808080" stroke-width="0.1" >572</text><line x1="181.20000000000002" y1="232.2" x2="190.0" y2="232.2" stroke="#777" stroke-width="0.6"/><circle cx="185.80" cy="232.20" r="1.66" fill="#111"/><text x="191.40" y="234.10" font-size="5.0" font-weight="normal" text-anchor="start" fill="#808080" stroke="#808080" stroke-width="0.1" >592</text><line x1="181.20000000000002" y1="239.0" x2="190.0" y2="239.0" stroke="#bbb" stroke-width="0.6"/><path d="M185.80 237.29L187.51 239.00L185.80 240.71L184.09 239.00Z" fill="#eee" stroke="#999" stroke-width="0.6"/><text x="191.40" y="240.90" font-size="5.0" font-weight="normal" text-anchor="start" fill="#808080" stroke="#808080" stroke-width="0.1" >585</text><line x1="181.20000000000002" y1="245.8" x2="190.0" y2="245.8" stroke="#bbb" stroke-width="0.6"/><path d="M185.80 244.09L187.61 247.17L184.00 247.17Z" fill="#eee" stroke="#999" stroke-width="0.6"/><text x="191.40" y="247.70" font-size="5.0" font-weight="normal" text-anchor="start" fill="#808080" stroke="#808080" stroke-width="0.1" >512</text><text x="233.20" y="173.90" font-size="14.7" font-weight="bold" text-anchor="start" fill="#111" stroke="#111" stroke-width="0.2" >D</text><line x1="324.0" y1="180.8" x2="324.0" y2="191.0" stroke="#333" stroke-width="1.05"/><path d="M322.7 190.3L325.3 190.3L324.0 192.8Z" fill="#333"/><line x1="336.4" y1="180.8" x2="336.4" y2="191.0" stroke="#333" stroke-width="1.05"/><path d="M335.09999999999997 190.3L337.7 190.3L336.4 192.8Z" fill="#333"/><line x1="348.8" y1="180.8" x2="348.8" y2="191.0" stroke="#333" stroke-width="1.05"/><path d="M347.5 190.3L350.1 190.3L348.8 192.8Z" fill="#333"/><line x1="270.5" y1="193.39999999999998" x2="270.5" y2="284.8" stroke="#9a9a9a" stroke-width="1.1"/><line x1="270.0" y1="284.8" x2="405.65" y2="284.8" stroke="#9a9a9a" stroke-width="1.1"/><line x1="269.0" y1="193.7" x2="270.5" y2="193.7" stroke="#9a9a9a" stroke-width="0.8"/><text x="268.50" y="196.15" font-size="7.4" font-weight="bold" text-anchor="end" fill="#111" stroke="#111" stroke-width="0.2" >100</text><line x1="269.0" y1="216.47500000000002" x2="270.5" y2="216.47500000000002" stroke="#9a9a9a" stroke-width="0.8"/><text x="268.50" y="218.93" font-size="7.4" font-weight="bold" text-anchor="end" fill="#111" stroke="#111" stroke-width="0.2" >75</text><line x1="269.0" y1="239.25" x2="270.5" y2="239.25" stroke="#9a9a9a" stroke-width="0.8"/><text x="268.50" y="241.70" font-size="7.4" font-weight="bold" text-anchor="end" fill="#111" stroke="#111" stroke-width="0.2" >50</text><line x1="269.0" y1="262.02500000000003" x2="270.5" y2="262.02500000000003" stroke="#9a9a9a" stroke-width="0.8"/><text x="268.50" y="264.48" font-size="7.4" font-weight="bold" text-anchor="end" fill="#111" stroke="#111" stroke-width="0.2" >25</text><line x1="269.0" y1="284.8" x2="270.5" y2="284.8" stroke="#9a9a9a" stroke-width="0.8"/><text x="268.50" y="287.25" font-size="7.4" font-weight="bold" text-anchor="end" fill="#111" stroke="#111" stroke-width="0.2" >0</text><line x1="270.6" y1="284.8" x2="270.6" y2="286.3" stroke="#9a9a9a" stroke-width="0.8"/><text x="271.20" y="292.00" font-size="7.4" font-weight="bold" text-anchor="middle" fill="#111" stroke="#111" stroke-width="0.2" >0</text><line x1="288.85" y1="284.8" x2="288.85" y2="286.3" stroke="#9a9a9a" stroke-width="0.8"/><text x="289.45" y="292.00" font-size="7.4" font-weight="bold" text-anchor="middle" fill="#111" stroke="#111" stroke-width="0.2" >10</text><line x1="307.1" y1="284.8" x2="307.1" y2="286.3" stroke="#9a9a9a" stroke-width="0.8"/><text x="307.70" y="292.00" font-size="7.4" font-weight="bold" text-anchor="middle" fill="#111" stroke="#111" stroke-width="0.2" >20</text><line x1="325.35" y1="284.8" x2="325.35" y2="286.3" stroke="#9a9a9a" stroke-width="0.8"/><text x="325.95" y="292.00" font-size="7.4" font-weight="bold" text-anchor="middle" fill="#111" stroke="#111" stroke-width="0.2" >30</text><line x1="343.6" y1="284.8" x2="343.6" y2="286.3" stroke="#9a9a9a" stroke-width="0.8"/><text x="344.20" y="292.00" font-size="7.4" font-weight="bold" text-anchor="middle" fill="#111" stroke="#111" stroke-width="0.2" >40</text><line x1="361.85" y1="284.8" x2="361.85" y2="286.3" stroke="#9a9a9a" stroke-width="0.8"/><text x="362.45" y="292.00" font-size="7.4" font-weight="bold" text-anchor="middle" fill="#111" stroke="#111" stroke-width="0.2" >50</text><line x1="380.1" y1="284.8" x2="380.1" y2="286.3" stroke="#9a9a9a" stroke-width="0.8"/><text x="380.70" y="292.00" font-size="7.4" font-weight="bold" text-anchor="middle" fill="#111" stroke="#111" stroke-width="0.2" >60</text><line x1="398.35" y1="284.8" x2="398.35" y2="286.3" stroke="#9a9a9a" stroke-width="0.8"/><text x="398.95" y="292.00" font-size="7.4" font-weight="bold" text-anchor="middle" fill="#111" stroke="#111" stroke-width="0.2" >70</text><text x="334.00" y="311.00" font-size="10.4" font-weight="bold" text-anchor="middle" fill="#111" stroke="#111" stroke-width="0.2" >Days After Tumor Challenge</text><text transform="translate(241.5 245.7) rotate(-90)" font-size="10.35" font-weight="bold" text-anchor="middle" fill="#111" stroke="#111" stroke-width="0.2">Percent survival</text><path d="M332.47 193.70H332.47V211.92H342.14V230.14H367.87V248.36H406.01V248.36" stroke="#5a5a5a" stroke-width="1.1" fill="none"/><path d="M342.14 227.71L344.71 232.08L339.58 232.08Z" fill="#4a4a4a"/><path d="M367.87 245.93L370.44 250.30L365.31 250.30Z" fill="#4a4a4a"/><path d="M406.01 245.93L408.58 250.30L403.45 250.30Z" fill="#4a4a4a"/><path d="M332.47 193.70H332.47V211.92H338.12V248.36H383.20V266.58H406.01V266.58" stroke="#1a1a1a" stroke-width="1.1" fill="none"/><rect x="330.31" y="209.76" width="4.32" height="4.32" fill="#111"/><rect x="335.96" y="246.20" width="4.32" height="4.32" fill="#111"/><rect x="381.04" y="264.42" width="4.32" height="4.32" fill="#111"/><rect x="403.85" y="264.42" width="4.32" height="4.32" fill="#111"/><path d="M270.60 193.70H406.01" stroke="#7a7a7a" stroke-width="1.5" fill="none"/><path d="M406.01 196.22L408.68 191.68L403.35 191.68Z" fill="#555"/><path d="M415.3 194H421.8V248H415.3" stroke="#999" stroke-width="1" fill="none"/><text x="425.80" y="230.00" font-size="16.5" font-weight="bold" text-anchor="start" fill="#111" stroke="#111" stroke-width="0.2" >*</text><line x1="449.2" y1="192.6" x2="457.7" y2="192.6" stroke="#111" stroke-width="1.3"/><rect x="451.90" y="191.00" width="3.20" height="3.20" fill="#111"/><text x="460.60" y="195.20" font-size="7.4" font-weight="bold" text-anchor="start" fill="#111" stroke="#111" stroke-width="0.2" >HBSS</text><line x1="449.2" y1="202.6" x2="457.7" y2="202.6" stroke="#555" stroke-width="1.3"/><path d="M453.50 204.40L455.40 201.16L451.60 201.16Z" fill="#555"/><text x="460.60" y="205.20" font-size="7.4" font-weight="bold" text-anchor="start" fill="#111" stroke="#111" stroke-width="0.2" >anti-CD20-hIFN&#945;</text><line x1="449.2" y1="212.6" x2="457.7" y2="212.6" stroke="#555" stroke-width="1.3"/><path d="M453.50 210.80L455.40 214.04L451.60 214.04Z" fill="#555"/><text x="460.60" y="215.20" font-size="7.4" font-weight="bold" text-anchor="start" fill="#111" stroke="#111" stroke-width="0.2" >rituximab</text>
</svg>
</body></html>
